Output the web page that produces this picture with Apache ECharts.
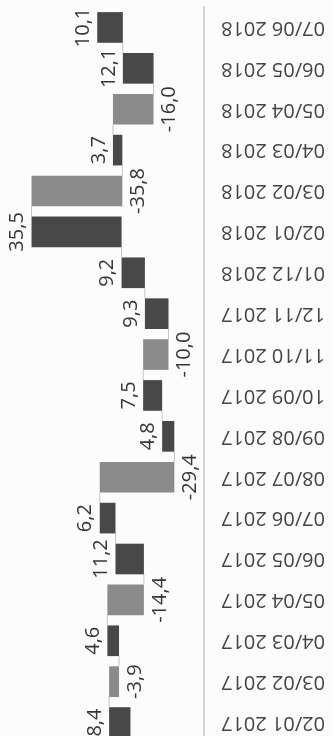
<!DOCTYPE html>
<html>
<head>
<meta charset="utf-8">
<script src="https://cdn.jsdelivr.net/npm/echarts@6/dist/echarts.min.js"></script>
<style>
  html, body { margin: 0; padding: 0; background: #fcfcfc; }
  #chart { width: 333px; height: 736px; }
</style>
</head>
<body>
<div id="chart"></div>
<script>
// Monthly changes, oldest first
const categories = [
  '02/01 2017', '03/02 2017', '04/03 2017', '05/04 2017', '06/05 2017',
  '07/06 2017', '08/07 2017', '09/08 2017', '10/09 2017', '11/10 2017',
  '12/11 2017', '01/12 2018', '02/01 2018', '03/02 2018', '04/03 2018',
  '05/04 2018', '06/05 2018', '07/06 2018'
];
const changes = [
  8.4, -3.9, 4.6, -14.4, 11.2,
  6.2, -29.4, 4.8, 7.5, -10.0,
  9.3, 9.2, 35.5, -35.8, 3.7,
  -16.0, 12.1, 10.1
];
// Waterfall: each bar runs from the previous running total to the new one
const rows = [];
let level = 0;
changes.forEach((v, i) => {
  rows.push([i, level, level + v, v]);
  level += v;
});

const COLOR_UP = '#484848';
const COLOR_DOWN = '#8b8b8b';
const FONT = '"Open Sans", "Noto Sans", sans-serif';

function fmt(v) { return v.toFixed(1).replace('.', ','); }

const chart = echarts.init(document.getElementById('chart'), null, { renderer: 'canvas' });

chart.setOption({
  animation: false,
  backgroundColor: '#fcfcfc',
  grid: { left: 29, right: 129, top: 7, height: 736, outerBoundsMode: 'none', containLabel: false },
  xAxis: {
    type: 'value',
    inverse: true,
    min: -29,
    max: 40,
    show: false,
    splitLine: { show: false }
  },
  yAxis: {
    type: 'category',
    data: categories,
    position: 'right',
    axisLine: { show: true, onZero: false, lineStyle: { color: '#d4d4d4', width: 2 } },
    axisTick: { show: false },
    axisLabel: {
      rotate: 180,
      margin: 17,
      fontSize: 20,
      fontFamily: FONT,
      color: '#444444'
    },
    splitLine: { show: false }
  },
  series: [{
    type: 'custom',
    data: rows,
    encode: { x: [1, 2], y: 0 },
    renderItem: function (params, api) {
      const idx = api.value(0);
      const v = api.value(3);
      const s = api.coord([api.value(1), idx]);
      const e = api.coord([api.value(2), idx]);
      const band = api.size([0, 1])[1];
      const bw = band * 0.75;
      const x0 = Math.min(s[0], e[0]);
      const w = Math.abs(e[0] - s[0]);
      const up = v >= 0;
      const children = [{
        type: 'rect',
        shape: { x: x0, y: s[1] - bw / 2, width: w, height: bw },
        style: { fill: up ? COLOR_UP : COLOR_DOWN }
      }];
      // connector to the next bar at the new running total
      if (idx < rows.length - 1) {
        children.push({
          type: 'line',
          shape: { x1: e[0], y1: s[1] - bw / 2, x2: e[0], y2: s[1] - band + bw / 2 },
          style: { stroke: '#c4c4c4', lineWidth: 1 }
        });
      }
      // value label past the end of the bar, reading bottom to top
      children.push({
        type: 'text',
        x: up ? e[0] - 4 : e[0] + 6,
        y: s[1],
        rotation: Math.PI / 2,
        style: {
          text: fmt(v),
          fill: '#363636',
          fontSize: 20,
          fontFamily: FONT,
          align: 'center',
          verticalAlign: up ? 'bottom' : 'top'
        }
      });
      return { type: 'group', children: children };
    }
  }]
});
</script>
</body>
</html>
